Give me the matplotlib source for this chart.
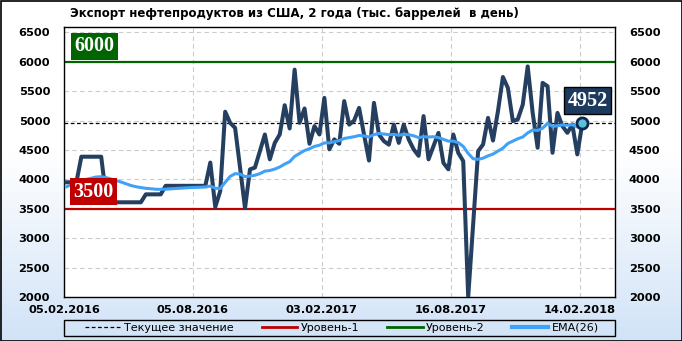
import numpy as np
import matplotlib
matplotlib.use('Agg')
import matplotlib.pyplot as plt
from matplotlib.patches import Rectangle

# weekly export values, thousand barrels per day
exports = [3950, 3950, 3950, 4385, 4385, 4385, 4385, 4385, 3700, 3610,
           3610, 3610, 3610, 3610, 3610, 3610, 3745, 3745, 3745, 3745,
           3890, 3890, 3890, 3890, 3890, 3890, 3890, 3890, 3890, 4285,
           3530, 3800, 5150, 4960, 4875, 4200, 3510, 4170, 4200, 4480,
           4763, 4340, 4620, 4763, 5260, 4865, 5865, 4960, 5205, 4605,
           4905, 4763, 5385, 4510, 4680, 4605, 5330, 4930, 5000, 5215,
           4760, 4320, 5300, 4763, 4650, 4590, 4930, 4620, 4930, 4680,
           4510, 4400, 5075, 4340, 4565, 4790, 4280, 4170, 4763, 4450,
           4310, 2000, 3240, 4480, 4593, 5045, 4660, 5160, 5740, 5554,
           4990, 5020, 5270, 5920, 5130, 4537, 5640, 5583, 4452, 5130,
           4904, 4791, 4932, 4424, 4952]

ema26 = [3875, 3910, 3945, 3975, 4000, 4020, 4040, 4045, 4030, 4005,
         3980, 3955, 3925, 3895, 3875, 3860, 3848, 3840, 3832, 3830,
         3833, 3838, 3845, 3850, 3855, 3860, 3863, 3866, 3870, 3885,
         3850, 3845, 3950, 4050, 4097, 4090, 4046, 4055, 4070, 4097,
         4140, 4150, 4175, 4210, 4260, 4300, 4390, 4440, 4490, 4520,
         4560, 4580, 4620, 4620, 4640, 4660, 4695, 4710, 4725, 4746,
         4740, 4720, 4760, 4780, 4770, 4760, 4765, 4750, 4765, 4760,
         4740, 4710, 4725, 4720, 4725, 4710, 4680, 4650, 4650, 4625,
         4560, 4440, 4350, 4340, 4360, 4400, 4430, 4480, 4530, 4610,
         4650, 4690, 4720, 4790, 4840, 4830, 4870, 4950, 4900, 4910,
         4925, 4920, 4930, 4890, 4930]

tick_labels = ['05.02.2016', '05.08.2016', '03.02.2017', '16.08.2017', '14.02.2018']
tick_idx = [0, 26, 52, 78, 104]
level1 = 3500
level2 = 6000
current = exports[-1]

navy = '#253f60'
x = np.arange(len(exports)) + 0.5

fig = plt.figure(figsize=(6.82, 3.41), dpi=100)

# background gradient
bg = fig.add_axes([0, 0, 1, 1], zorder=-10)
bg.axis('off')
t = np.clip((np.linspace(0, 1, 341) - 0.45) / 0.55, 0, 1)
top = np.array([1.0, 1.0, 1.0])
bot = np.array([0.82, 0.89, 0.97])
grad = top[None, :] * (1 - t[:, None]) + bot[None, :] * t[:, None]
bg.imshow(grad[:, None, :], aspect='auto', extent=[0, 1, 0, 1])
bg.set_xlim(0, 1)
bg.set_ylim(0, 1)

ax = fig.add_axes([64 / 682, 1 - 297 / 341, 551 / 682, 270 / 341])
ax.set_facecolor('white')

ax.grid(True, color='#cccccc', linestyle=(0, (4, 3)), linewidth=0.8)
ax.set_axisbelow(True)

ax.axhline(level1, color='#c00000', lw=1.6, zorder=2)
ax.axhline(level2, color='#006400', lw=1.6, zorder=2)
ax.axhline(current, color='black', lw=0.9, linestyle=(0, (3, 2)), zorder=2)

ax.plot(x, exports, color=navy, lw=2.9, solid_joinstyle='round', zorder=3)
ax.plot(x, ema26, color='#3fa2f7', lw=2.2, zorder=4)
ax.plot(x[-1], exports[-1], 'o', ms=8, mfc='#5cc0d8', mec='#102850', mew=2, zorder=5)

ax.set_xlim(0, 111.1)
ax.set_ylim(2000, 6590)
ax.set_yticks(np.arange(2000, 6501, 500))
ax.set_xticks(x[tick_idx] - 0.5)
ax.set_xticklabels(tick_labels)
ax.tick_params(axis='both', length=0, labelsize=8.2)
ax.tick_params(axis='y', labelright=True, pad=10)
ax.tick_params(axis='x', pad=6)
for lab in ax.get_xticklabels() + ax.get_yticklabels():
    lab.set_fontweight('bold')
for tk in ax.yaxis.get_major_ticks():
    tk.label2.set_fontweight('bold')
for sp in ax.spines.values():
    sp.set_color('black')
    sp.set_linewidth(1.0)

# value boxes
ytr = ax.get_yaxis_transform()
box_font = dict(family='Liberation Serif', weight='bold', size=14.5, color='white', zorder=6)
ax.text(0.019, 6263, '6000', ha='left', va='center', transform=ytr, **box_font,
        bbox=dict(boxstyle='square,pad=0.17', fc='#006400', ec='none'))
ax.text(0.017, 3788, '3500', ha='left', va='center', transform=ytr, **box_font,
        bbox=dict(boxstyle='square,pad=0.17', fc='#c00000', ec='none'))
ax.text(0.914, 5335, '4952', ha='left', va='center', transform=ytr, **box_font,
        bbox=dict(boxstyle='square,pad=0.17', fc='#1c3a5e', ec='black', lw=1))

fig.text(70 / 682, 1 - 14 / 341, 'Экспорт нефтепродуктов из США, 2 года (тыс. баррелей  в день)',
         ha='left', va='center', fontsize=8.5, fontweight='bold')

# legend
handles = [
    plt.Line2D([], [], color='black', lw=0.9, linestyle=(0, (3, 2))),
    plt.Line2D([], [], color='#c00000', lw=2),
    plt.Line2D([], [], color='#006400', lw=2),
    plt.Line2D([], [], color='#3fa2f7', lw=3),
]
names = ['Текущее значение', 'Уровень-1', 'Уровень-2', 'EMA(26)']
fig.legend(handles, names, loc='center', bbox_to_anchor=(342 / 682, 1 - 328 / 341), ncol=4,
           frameon=False, fontsize=8, handlelength=3.2, handletextpad=0.3, columnspacing=2.5)
fig.patches.append(Rectangle((64 / 682, 1 - 336 / 341), 551 / 682, 16 / 341, transform=fig.transFigure,
                             fill=False, ec='black', lw=1))
fig.patches.append(Rectangle((0.5 / 682, 0.5 / 341), 681 / 682, 340 / 341, transform=fig.transFigure,
                             fill=False, ec='black', lw=1.2))

fig.savefig('out.png', dpi=100)
